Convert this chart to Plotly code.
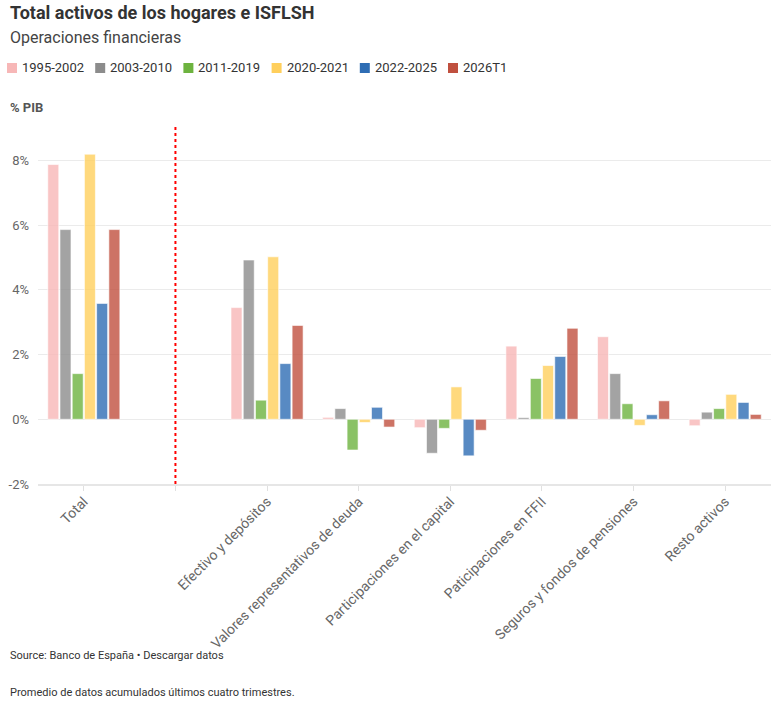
import plotly.graph_objects as go

# ---------------- data ----------------
categories = ["Total", " ", "Efectivo y depósitos", "Valores representativos de deuda",
              "Participaciones en el capital", "Paticipaciones en FFII",
              "Seguros y fondos de pensiones", "Resto activos"]

series_names = ["1995-2002", "2003-2010", "2011-2019", "2020-2021", "2022-2025", "2026T1"]

v_1995_2002 = [7.87, None, 3.45, 0.06, -0.26, 2.26, 2.55, -0.20]
v_2003_2010 = [5.86, None, 4.92, 0.33, -1.05, 0.05, 1.41, 0.22]
v_2011_2019 = [1.41, None, 0.59, -0.95, -0.28, 1.26, 0.48, 0.33]
v_2020_2021 = [8.19, None, 5.02, -0.10, 1.00, 1.66, -0.19, 0.77]
v_2022_2025 = [3.58, None, 1.72, 0.37, -1.13, 1.94, 0.14, 0.52]
v_2026T1 = [5.86, None, 2.90, -0.24, -0.34, 2.81, 0.57, 0.15]

series_values = [v_1995_2002, v_2003_2010, v_2011_2019, v_2020_2021, v_2022_2025, v_2026T1]

y_tick_vals = [-2, 0, 2, 4, 6, 8]
y_tick_text = ["-2%", "0%", "2%", "4%", "6%", "8%"]

# ---------------- style ----------------
colors = ["#f7b7b7", "#8c8c8c", "#6db33f", "#ffcf5c", "#2e6db4", "#c0503f"]
FONT = "Roboto"

W, H = 772, 702
L, R, T, B = 38, 1, 127, 218
PW, PH = W - L - R, H - T - B


def px_x(px):
    return (px - L) / PW


def px_y(py):
    return (H - B - py) / PH


def rgba(hex_color, a):
    h = hex_color.lstrip("#")
    r, g, b = int(h[0:2], 16), int(h[2:4], 16), int(h[4:6], 16)
    return f"rgba({r},{g},{b},{a})"


fig = go.Figure()
for name, vals, col in zip(series_names, series_values, colors):
    fig.add_trace(go.Bar(
        x=categories, y=vals, name=name, showlegend=False,
        marker=dict(color=rgba(col, 0.8), line=dict(color="rgba(255,255,255,0.6)", width=1)),
    ))

annotations = []
shapes = []

# Title / subtitle / axis label
annotations.append(dict(text="<b>Total activos de los hogares e ISFLSH</b>", x=px_x(8), y=px_y(12),
                        xref="paper", yref="paper", xanchor="left", yanchor="middle", showarrow=False,
                        font=dict(family=FONT, size=18, color="#333333")))
annotations.append(dict(text="Operaciones financieras", x=px_x(8), y=px_y(37),
                        xref="paper", yref="paper", xanchor="left", yanchor="middle", showarrow=False,
                        font=dict(family=FONT, size=16, color="#444444")))
annotations.append(dict(text="<b>% PIB</b>", x=px_x(8), y=px_y(107),
                        xref="paper", yref="paper", xanchor="left", yanchor="middle", showarrow=False,
                        font=dict(family=FONT, size=13, color="#555555")))

# Legend (manual, solid swatches)
for i, (name, col) in enumerate(zip(series_names, colors)):
    x0 = 7 + i * 88.2
    shapes.append(dict(type="rect", xref="paper", yref="paper",
                       x0=px_x(x0), x1=px_x(x0 + 10), y0=px_y(73), y1=px_y(63),
                       fillcolor=col, line=dict(width=0)))
    annotations.append(dict(text=name, x=px_x(x0 + 13), y=px_y(68), xref="paper", yref="paper",
                            xanchor="left", yanchor="middle", showarrow=False,
                            font=dict(family=FONT, size=13, color="#333333")))

# Footer
annotations.append(dict(text="Source: Banco de España • Descargar datos", x=px_x(8), y=px_y(655),
                        xref="paper", yref="paper", xanchor="left", yanchor="middle", showarrow=False,
                        font=dict(family=FONT, size=11, color="#333333")))
annotations.append(dict(text="Promedio de datos acumulados últimos cuatro trimestres.", x=px_x(8), y=px_y(692),
                        xref="paper", yref="paper", xanchor="left", yanchor="middle", showarrow=False,
                        font=dict(family=FONT, size=11, color="#333333")))

# Red dotted separator at the gap category
shapes.append(dict(type="line", xref="x", yref="paper", x0=categories[1], x1=categories[1],
                   y0=0, y1=1, line=dict(color="#ff0000", width=2, dash="dot")))

fig.update_layout(
    width=W, height=H,
    margin=dict(l=L, r=R, t=T, b=B),
    paper_bgcolor="white", plot_bgcolor="white",
    barmode="group", bargap=0.2, bargroupgap=0.1,
    font=dict(family=FONT, size=13, color="#666666"),
    annotations=annotations, shapes=shapes,
    showlegend=False,
    xaxis=dict(
        categoryorder="array", categoryarray=categories,
        tickangle=-45, ticks="outside", ticklen=5, tickcolor="#e0e0e0",
        showline=True, linecolor="#e6e6e6", linewidth=2,
        showgrid=False, ticklabelstandoff=-3,
        tickfont=dict(family=FONT, size=14, color="#666666"),
    ),
    yaxis=dict(
        range=[-2, 9.03], tickvals=y_tick_vals, ticktext=y_tick_text,
        showgrid=True, gridcolor="#ebebeb", gridwidth=1, zeroline=False,
        ticklabelstandoff=8, tickfont=dict(family=FONT, size=13, color="#666666"),
    ),
)

fig.write_html(
    "out.html",
    config={"displayModeBar": False},
    post_script="document.body.style.margin='0';document.body.style.overflow='hidden';",
)
